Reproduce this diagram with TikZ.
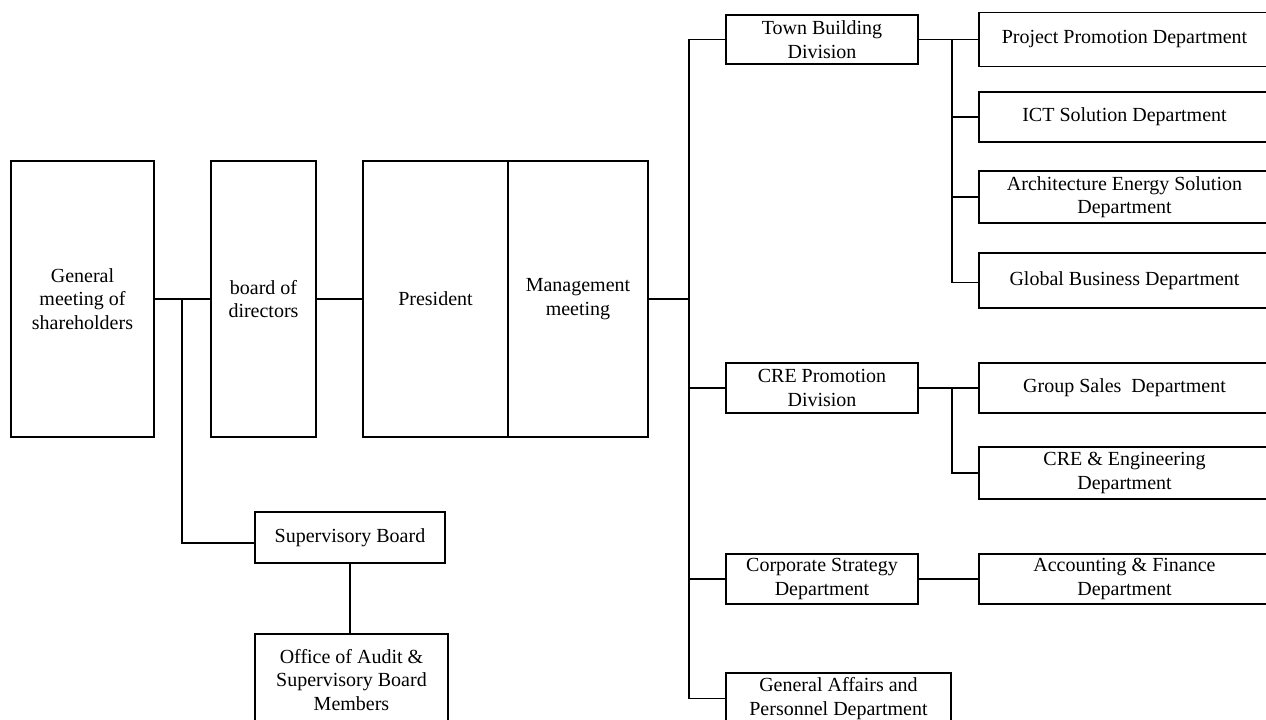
\documentclass[tikz,border=0pt]{standalone}
\usepackage{fontspec}
\setmainfont{Liberation Serif}
\begin{document}
\begin{tikzpicture}[x=0.75pt,y=-0.75pt,
  bx/.style 2 args={draw, line width=1.1pt, minimum width=#1*0.75pt, minimum height=#2*0.75pt,
    inner sep=0pt, align=center, font=\fontsize{15}{17.5}\selectfont},
  ln/.style={line width=1.1pt}]
\useasboundingbox (0,0) rectangle (1266,720);
\clip (0,0) rectangle (1266,720);
% left part
\node[bx={143}{276}] (gms) at (82.5,299) {General\\meeting of\\shareholders};
\node[bx={105}{276}] (bod) at (263.5,299) {board of\\directors};
\node[bx={145}{276}] (pres) at (435.5,299) {President};
\node[bx={140}{276}] (mgmt) at (578,299) {Management\\meeting};
\node[bx={190}{51}] (sup) at (350,537.5) {Supervisory Board};
\node[bx={193}{92}] (off) at (351.5,680) {Office of Audit \&\\Supervisory Board\\Members};
% divisions
\node[bx={192}{49}] (tb) at (822,39.5) {Town Building\\Division};
\node[bx={192}{50}] (cre) at (822,388) {CRE Promotion\\Division};
\node[bx={192}{50}] (cs) at (822,579) {Corporate Strategy\\Department};
\node[bx={225}{51}] (ga) at (838.5,698.5) {General Affairs and\\Personnel Department};
% departments
\node[bx={291}{54}] (pp) at (1124.5,39.5) {Project Promotion Department};
\node[bx={291}{50}] (ict) at (1124.5,117) {ICT Solution Department};
\node[bx={291}{52}] (aes) at (1124.5,197) {Architecture Energy Solution\\Department};
\node[bx={291}{55}] (gb) at (1124.5,280.5) {Global Business Department};
\node[bx={291}{50}] (gs) at (1124.5,388) {Group Sales\ \ Department};
\node[bx={291}{52}] (ce) at (1124.5,473) {CRE \& Engineering\\Department};
\node[bx={291}{50}] (af) at (1124.5,579) {Accounting \& Finance\\Department};
% junction coordinates
\coordinate (s0) at (182,299);
\coordinate (t) at (689,299);
\coordinate (s1) at (952,200);
% connectors left
\draw[ln] (gms.east) -- (bod.west);
\draw[ln] (bod.east) -- (pres.west);
\draw[ln] (s0) |- ([yshift=-4pt]sup.west);
\draw[ln] (sup.south) -- (sup.south |- off.north);
% trunk
\draw[ln] (mgmt.east) -- (t);
\draw[ln] (tb.west) -| (t) |- (ga.west);
\draw[ln] (cre.west) -- (cre.west -| t);
\draw[ln] (cs.west) -- (cs.west -| t);
% town building branch
\draw[ln] (tb.east) -- (pp.west);
\draw[ln] (tb.east -| s1) |- ([yshift=-1.5pt]gb.west);
\draw[ln] (ict.west) -- (ict.west -| s1);
\draw[ln] (aes.west) -- (aes.west -| s1);
% CRE branch
\draw[ln] (cre.east) -- (gs.west);
\draw[ln] (cre.east -| s1) |- (ce.west);
% corporate strategy
\draw[ln] (cs.east) -- (af.west);
\end{tikzpicture}
\end{document}
